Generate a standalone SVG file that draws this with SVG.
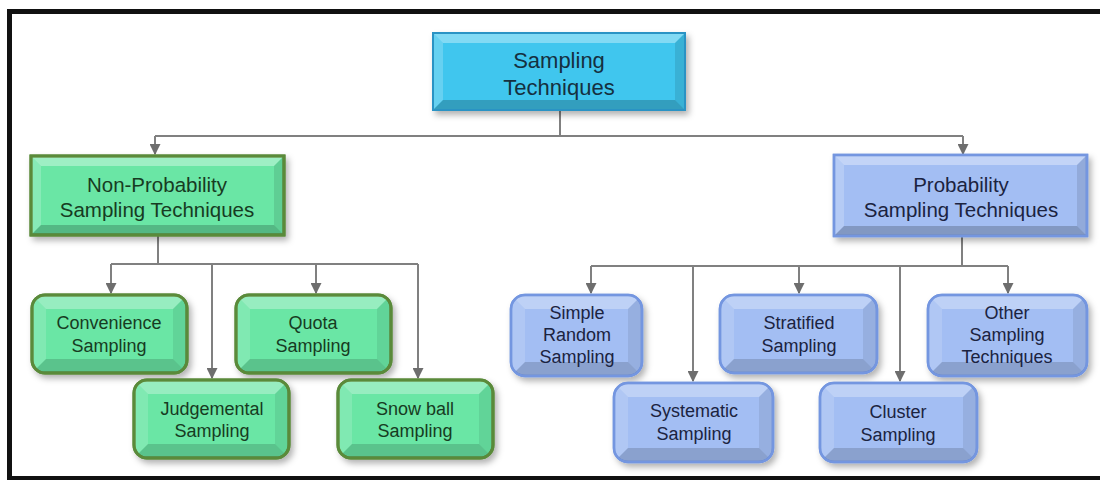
<svg xmlns="http://www.w3.org/2000/svg" width="1100" height="480" viewBox="0 0 1100 480">
  <defs>
    <style>
      .frame { fill: #ffffff; stroke: #111111; stroke-width: 5; }
      .link { fill: none; stroke: #808080; stroke-width: 2; }
      .hi { fill: #ffffff; }
      .lo { fill: #000000; }
      .t { font-family: "Liberation Sans", Arial, sans-serif; text-anchor: middle; }
      .t-root { font-size: 22px; fill: #15303f; }
      .t-par { font-size: 20.5px; }
      .t-kid { font-size: 18px; }
      .t-green { fill: #173b22; }
      .t-blue { fill: #1b2340; }
      .root-box { fill: #3fc6ee; stroke: #2a93c4; stroke-width: 2; }
      .green-box { fill: #6be6a5; stroke: #5a8a3a; stroke-width: 3; }
      .blue-box { fill: #a3bef3; stroke: #7496e0; stroke-width: 2.5; }
    </style>
    <filter id="shadow" x="-10%" y="-10%" width="125%" height="135%">
      <feDropShadow dx="3" dy="4" stdDeviation="3" flood-color="#000000" flood-opacity="0.3"/>
    </filter>
    <marker id="arrow" viewBox="0 0 10 10" refX="9" refY="5" markerWidth="5.5" markerHeight="5.5" orient="auto" markerUnits="strokeWidth">
      <path d="M0,0 L10,5 L0,10 Z" fill="#6e6e6e"/>
    </marker>
    <!-- rounded clips for the leaf boxes, in each node's local space -->
    <clipPath id="clip155"><rect width="155" height="78" rx="13"/></clipPath>
    <clipPath id="clip131"><rect width="131" height="81" rx="14"/></clipPath>
    <clipPath id="clip157"><rect width="157" height="78" rx="14"/></clipPath>
    <clipPath id="clip159"><rect width="159" height="81" rx="14"/></clipPath>
    <clipPath id="clip159b"><rect width="159" height="79" rx="14"/></clipPath>
    <clipPath id="clip157b"><rect width="157" height="79" rx="14"/></clipPath>
  </defs>

  <!-- outer frame -->
  <rect class="frame" x="9.5" y="11.5" width="1100" height="467"/>

  <!-- connectors -->
  <g id="connectors">
    <path class="link" d="M560,110 V136"/>
    <path class="link" d="M155,136 H963"/>
    <path class="link" d="M155,136 V154" marker-end="url(#arrow)"/>
    <path class="link" d="M963,136 V154" marker-end="url(#arrow)"/>

    <path class="link" d="M158,236 V264 M111,264 H418"/>
    <path class="link" d="M111,264 V293" marker-end="url(#arrow)"/>
    <path class="link" d="M212,264 V378" marker-end="url(#arrow)"/>
    <path class="link" d="M316,264 V293" marker-end="url(#arrow)"/>
    <path class="link" d="M418,264 V378" marker-end="url(#arrow)"/>

    <path class="link" d="M962,237 V266 M591,266 H1008"/>
    <path class="link" d="M591,266 V293" marker-end="url(#arrow)"/>
    <path class="link" d="M693,266 V381" marker-end="url(#arrow)"/>
    <path class="link" d="M799,266 V293" marker-end="url(#arrow)"/>
    <path class="link" d="M900,266 V381" marker-end="url(#arrow)"/>
    <path class="link" d="M1008,266 V293" marker-end="url(#arrow)"/>
  </g>

  <!-- root -->
  <g id="root" transform="translate(433,33)">
    <rect class="root-box" width="252" height="77" filter="url(#shadow)"/>
    <polygon class="hi" opacity="0.35" points="0,0 252,0 242,10 10,10"/>
    <polygon class="hi" opacity="0.2" points="0,0 10,10 10,67 0,77"/>
    <polygon class="lo" opacity="0.1" points="252,0 252,77 242,67 242,10"/>
    <polygon class="lo" opacity="0.2" points="0,77 252,77 242,67 10,67"/>
    <rect width="252" height="77" fill="none" stroke="#2a93c4" stroke-width="2"/>
    <text class="t t-root" x="126" y="35">Sampling</text>
    <text class="t t-root" x="126" y="62">Techniques</text>
  </g>

  <!-- non-probability branch -->
  <g id="non-probability" transform="translate(31,156)">
    <rect class="green-box" width="253" height="79" filter="url(#shadow)"/>
    <polygon class="hi" opacity="0.35" points="0,0 253,0 243,10 10,10"/>
    <polygon class="hi" opacity="0.2" points="0,0 10,10 10,69 0,79"/>
    <polygon class="lo" opacity="0.1" points="253,0 253,79 243,69 243,10"/>
    <polygon class="lo" opacity="0.2" points="0,79 253,79 243,69 10,69"/>
    <rect width="253" height="79" fill="none" stroke="#5a8a3a" stroke-width="3"/>
    <text class="t t-par t-green" x="126" y="36">Non-Probability</text>
    <text class="t t-par t-green" x="126" y="61">Sampling Techniques</text>
  </g>

  <!-- probability branch -->
  <g id="probability" transform="translate(834,155)">
    <rect class="blue-box" width="253" height="81" filter="url(#shadow)"/>
    <polygon class="hi" opacity="0.35" points="0,0 253,0 243,10 10,10"/>
    <polygon class="hi" opacity="0.2" points="0,0 10,10 10,71 0,81"/>
    <polygon class="lo" opacity="0.1" points="253,0 253,81 243,71 243,10"/>
    <polygon class="lo" opacity="0.2" points="0,81 253,81 243,71 10,71"/>
    <rect width="253" height="81" fill="none" stroke="#7496e0" stroke-width="2.5"/>
    <text class="t t-par t-blue" x="127" y="37">Probability</text>
    <text class="t t-par t-blue" x="127" y="62">Sampling Techniques</text>
  </g>

  <!-- non-probability leaves -->
  <g id="convenience" transform="translate(32,295)">
    <rect class="green-box" width="155" height="78" rx="13" filter="url(#shadow)"/>
    <g clip-path="url(#clip155)">
      <polygon class="hi" opacity="0.3" points="0,0 155,0 141,14 14,14"/>
      <polygon class="hi" opacity="0.15" points="0,0 14,14 14,64 0,78"/>
      <polygon class="lo" opacity="0.08" points="155,0 155,78 141,64 141,14"/>
      <polygon class="lo" opacity="0.15" points="0,78 155,78 141,64 14,64"/>
    </g>
    <rect width="155" height="78" rx="13" fill="none" stroke="#5a8a3a" stroke-width="3"/>
    <text class="t t-kid t-green" x="77" y="34">Convenience</text>
    <text class="t t-kid t-green" x="77" y="57">Sampling</text>
  </g>

  <g id="quota" transform="translate(236,295)">
    <rect class="green-box" width="155" height="78" rx="13" filter="url(#shadow)"/>
    <g clip-path="url(#clip155)">
      <polygon class="hi" opacity="0.3" points="0,0 155,0 141,14 14,14"/>
      <polygon class="hi" opacity="0.15" points="0,0 14,14 14,64 0,78"/>
      <polygon class="lo" opacity="0.08" points="155,0 155,78 141,64 141,14"/>
      <polygon class="lo" opacity="0.15" points="0,78 155,78 141,64 14,64"/>
    </g>
    <rect width="155" height="78" rx="13" fill="none" stroke="#5a8a3a" stroke-width="3"/>
    <text class="t t-kid t-green" x="77" y="34">Quota</text>
    <text class="t t-kid t-green" x="77" y="57">Sampling</text>
  </g>

  <g id="judgemental" transform="translate(134,380)">
    <rect class="green-box" width="155" height="78" rx="13" filter="url(#shadow)"/>
    <g clip-path="url(#clip155)">
      <polygon class="hi" opacity="0.3" points="0,0 155,0 141,14 14,14"/>
      <polygon class="hi" opacity="0.15" points="0,0 14,14 14,64 0,78"/>
      <polygon class="lo" opacity="0.08" points="155,0 155,78 141,64 141,14"/>
      <polygon class="lo" opacity="0.15" points="0,78 155,78 141,64 14,64"/>
    </g>
    <rect width="155" height="78" rx="13" fill="none" stroke="#5a8a3a" stroke-width="3"/>
    <text class="t t-kid t-green" x="78" y="35">Judgemental</text>
    <text class="t t-kid t-green" x="78" y="57">Sampling</text>
  </g>

  <g id="snowball" transform="translate(338,380)">
    <rect class="green-box" width="155" height="78" rx="13" filter="url(#shadow)"/>
    <g clip-path="url(#clip155)">
      <polygon class="hi" opacity="0.3" points="0,0 155,0 141,14 14,14"/>
      <polygon class="hi" opacity="0.15" points="0,0 14,14 14,64 0,78"/>
      <polygon class="lo" opacity="0.08" points="155,0 155,78 141,64 141,14"/>
      <polygon class="lo" opacity="0.15" points="0,78 155,78 141,64 14,64"/>
    </g>
    <rect width="155" height="78" rx="13" fill="none" stroke="#5a8a3a" stroke-width="3"/>
    <text class="t t-kid t-green" x="77" y="35">Snow ball</text>
    <text class="t t-kid t-green" x="77" y="57">Sampling</text>
  </g>

  <!-- probability leaves -->
  <g id="simple-random" transform="translate(511,295)">
    <rect class="blue-box" width="131" height="81" rx="14" filter="url(#shadow)"/>
    <g clip-path="url(#clip131)">
      <polygon class="hi" opacity="0.3" points="0,0 131,0 117,14 14,14"/>
      <polygon class="hi" opacity="0.15" points="0,0 14,14 14,67 0,81"/>
      <polygon class="lo" opacity="0.08" points="131,0 131,81 117,67 117,14"/>
      <polygon class="lo" opacity="0.15" points="0,81 131,81 117,67 14,67"/>
    </g>
    <rect width="131" height="81" rx="14" fill="none" stroke="#7496e0" stroke-width="2.5"/>
    <text class="t t-kid t-blue" x="66" y="24">Simple</text>
    <text class="t t-kid t-blue" x="66" y="46">Random</text>
    <text class="t t-kid t-blue" x="66" y="68">Sampling</text>
  </g>

  <g id="stratified" transform="translate(720,295)">
    <rect class="blue-box" width="157" height="78" rx="14" filter="url(#shadow)"/>
    <g clip-path="url(#clip157)">
      <polygon class="hi" opacity="0.3" points="0,0 157,0 143,14 14,14"/>
      <polygon class="hi" opacity="0.15" points="0,0 14,14 14,64 0,78"/>
      <polygon class="lo" opacity="0.08" points="157,0 157,78 143,64 143,14"/>
      <polygon class="lo" opacity="0.15" points="0,78 157,78 143,64 14,64"/>
    </g>
    <rect width="157" height="78" rx="14" fill="none" stroke="#7496e0" stroke-width="2.5"/>
    <text class="t t-kid t-blue" x="79" y="34">Stratified</text>
    <text class="t t-kid t-blue" x="79" y="57">Sampling</text>
  </g>

  <g id="other" transform="translate(928,295)">
    <rect class="blue-box" width="159" height="81" rx="14" filter="url(#shadow)"/>
    <g clip-path="url(#clip159)">
      <polygon class="hi" opacity="0.3" points="0,0 159,0 145,14 14,14"/>
      <polygon class="hi" opacity="0.15" points="0,0 14,14 14,67 0,81"/>
      <polygon class="lo" opacity="0.08" points="159,0 159,81 145,67 145,14"/>
      <polygon class="lo" opacity="0.15" points="0,81 159,81 145,67 14,67"/>
    </g>
    <rect width="159" height="81" rx="14" fill="none" stroke="#7496e0" stroke-width="2.5"/>
    <text class="t t-kid t-blue" x="79" y="24">Other</text>
    <text class="t t-kid t-blue" x="79" y="46">Sampling</text>
    <text class="t t-kid t-blue" x="79" y="68">Techniques</text>
  </g>

  <g id="systematic" transform="translate(614,383)">
    <rect class="blue-box" width="159" height="79" rx="14" filter="url(#shadow)"/>
    <g clip-path="url(#clip159b)">
      <polygon class="hi" opacity="0.3" points="0,0 159,0 145,14 14,14"/>
      <polygon class="hi" opacity="0.15" points="0,0 14,14 14,65 0,79"/>
      <polygon class="lo" opacity="0.08" points="159,0 159,79 145,65 145,14"/>
      <polygon class="lo" opacity="0.15" points="0,79 159,79 145,65 14,65"/>
    </g>
    <rect width="159" height="79" rx="14" fill="none" stroke="#7496e0" stroke-width="2.5"/>
    <text class="t t-kid t-blue" x="80" y="34">Systematic</text>
    <text class="t t-kid t-blue" x="80" y="57">Sampling</text>
  </g>

  <g id="cluster" transform="translate(820,383)">
    <rect class="blue-box" width="157" height="79" rx="14" filter="url(#shadow)"/>
    <g clip-path="url(#clip157b)">
      <polygon class="hi" opacity="0.3" points="0,0 157,0 143,14 14,14"/>
      <polygon class="hi" opacity="0.15" points="0,0 14,14 14,65 0,79"/>
      <polygon class="lo" opacity="0.08" points="157,0 157,79 143,65 143,14"/>
      <polygon class="lo" opacity="0.15" points="0,79 157,79 143,65 14,65"/>
    </g>
    <rect width="157" height="79" rx="14" fill="none" stroke="#7496e0" stroke-width="2.5"/>
    <text class="t t-kid t-blue" x="78" y="35">Cluster</text>
    <text class="t t-kid t-blue" x="78" y="58">Sampling</text>
  </g>
</svg>
